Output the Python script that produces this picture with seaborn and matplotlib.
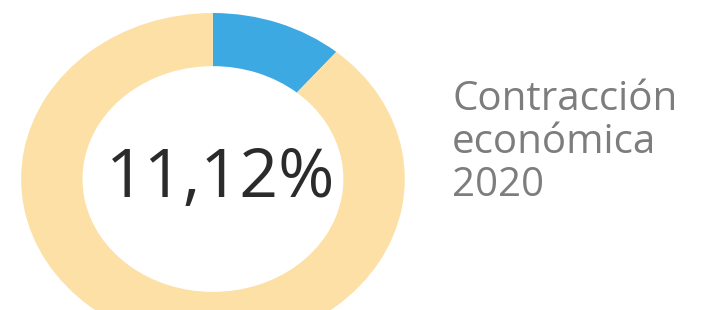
import matplotlib
matplotlib.use("Agg")
import matplotlib.pyplot as plt
import seaborn as sns

# Data
labels = ["Contracción", "Resto"]
values = [11.12, 88.88]
center_label = "11,12%"
side_label = "Contracción\neconómica\n2020"
colors = ["#3CA9E2", "#FCE0A6"]

sns.set_theme(style="white")
plt.rcParams["font.family"] = ["Open Sans", "DejaVu Sans"]

fig = plt.figure(figsize=(7.28, 3.10), dpi=100)
ax = fig.add_axes([0.029, -0.113, 0.527, 1.071])

ax.pie(values, colors=colors, startangle=90, counterclock=False,
       radius=1.0, wedgeprops=dict(width=0.32, edgecolor="none"))
ax.set_aspect("auto")
ax.set_xlim(-1, 1)
ax.set_ylim(-1, 1)
ax.axis("off")

ax.text(0.04, 0.0, center_label, ha="center", va="center",
        fontsize=49, color="#2b2b2b")

fig.text(0.621, 0.742, side_label, ha="left", va="top",
         fontsize=29, color="#7d7d7d", linespacing=1.07)

fig.savefig("out.png", dpi=100)
